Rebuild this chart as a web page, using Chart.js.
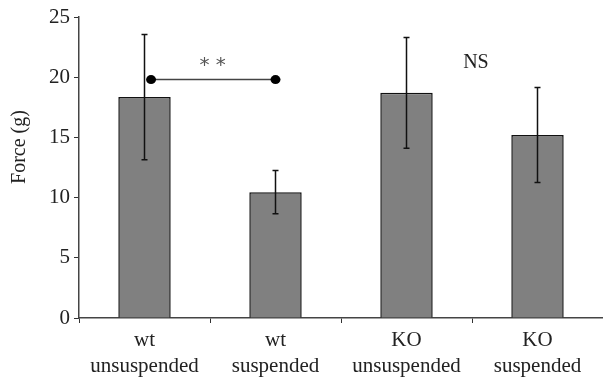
<!DOCTYPE html>
<html>
<head>
<meta charset="utf-8">
<script src="https://cdn.jsdelivr.net/npm/chart.js@4/dist/chart.umd.min.js"></script>
<style>
  html, body { margin: 0; padding: 0; background: #fff; }
  #wrap { width: 603px; height: 381px; }
</style>
</head>
<body>
<div id="wrap"><canvas id="chart"></canvas></div>
<script>
const categories = [['wt', 'unsuspended'], ['wt', 'suspended'], ['KO', 'unsuspended'], ['KO', 'suspended']];
const forceMean = [18.35, 10.45, 18.7, 15.2];
const forceErr = [5.2, 1.8, 4.6, 3.95];
const yTicks = [0, 5, 10, 15, 20, 25];
const yTitle = 'Force (g)';

// significance marks, in category index / value units
const sigBracket = { from: 0.05, to: 1.0, y: 19.8 };
const sigLabels = [
  { x: 0.52, y: 20.95, text: '* *', font: '20px "DejaVu Sans"', color: '#555' },
  { x: 2.53, y: 21.2, text: 'NS', font: '20px "Liberation Serif"', color: '#222' }
];

const serif = '"Liberation Serif", "DejaVu Serif", serif';

const extras = {
  id: 'extras',
  afterDatasetsDraw(chart) {
    const ctx = chart.ctx;
    const xs = chart.scales.x, ys = chart.scales.y;
    ctx.save();
    // error bars
    ctx.strokeStyle = '#111';
    ctx.lineWidth = 1.5;
    forceMean.forEach((m, i) => {
      const x = xs.getPixelForValue(i);
      const top = ys.getPixelForValue(m + forceErr[i]);
      const bot = ys.getPixelForValue(m - forceErr[i]);
      ctx.beginPath();
      ctx.moveTo(x, top); ctx.lineTo(x, bot);
      ctx.moveTo(x - 3, top); ctx.lineTo(x + 3, top);
      ctx.moveTo(x - 3, bot); ctx.lineTo(x + 3, bot);
      ctx.stroke();
    });
    // bracket
    const bx1 = xs.getPixelForValue(sigBracket.from);
    const bx2 = xs.getPixelForValue(sigBracket.to);
    const by = ys.getPixelForValue(sigBracket.y);
    ctx.strokeStyle = '#444';
    ctx.lineWidth = 1.5;
    ctx.beginPath();
    ctx.moveTo(bx1, by); ctx.lineTo(bx2, by);
    ctx.stroke();
    ctx.fillStyle = '#000';
    [bx1, bx2].forEach(x => {
      ctx.beginPath();
      ctx.ellipse(x, by, 5, 4.5, 0, 0, Math.PI * 2);
      ctx.fill();
    });
    // labels
    ctx.textAlign = 'center';
    ctx.textBaseline = 'middle';
    sigLabels.forEach(l => {
      ctx.font = l.font;
      ctx.fillStyle = l.color;
      ctx.fillText(l.text, xs.getPixelForValue(l.x), ys.getPixelForValue(l.y));
    });
    // y title sits above the middle of the axis in the original
    ctx.font = '20px ' + serif;
    ctx.fillStyle = '#222';
    ctx.translate(20, ys.getPixelForValue(14.2));
    ctx.rotate(-Math.PI / 2);
    ctx.fillText(yTitle, 0, 0);
    ctx.restore();
  }
};

new Chart(document.getElementById('chart'), {
  type: 'bar',
  data: {
    labels: categories,
    datasets: [{
      data: forceMean,
      backgroundColor: '#808080',
      borderColor: '#111',
      borderWidth: 1.5,
      categoryPercentage: 1,
      barPercentage: 0.4
    }]
  },
  options: {
    responsive: true,
    maintainAspectRatio: false,
    animation: false,
    layout: { padding: { top: 17, right: 0, left: 0, bottom: 0 } },
    plugins: { legend: { display: false }, tooltip: { enabled: false } },
    scales: {
      x: {
        grid: { display: true, drawOnChartArea: false, drawTicks: true, tickLength: 5, color: '#333', offset: true },
        border: { display: true, color: '#444', width: 1.5 },
        ticks: { color: '#222', font: { family: serif, size: 21, lineHeight: 1.22 }, padding: 5, maxRotation: 0 },
        afterFit: s => { s.height = 63; }
      },
      y: {
        min: 0,
        max: 25,
        afterBuildTicks: s => { s.ticks = yTicks.map(v => ({ value: v })); },
        grid: { display: true, drawOnChartArea: false, drawTicks: true, tickLength: 5, color: '#333' },
        border: { display: true, color: '#444', width: 1.5 },
        ticks: { color: '#222', font: { family: serif, size: 21 }, padding: 4 },
        afterFit: s => { s.width = 79; }
      }
    }
  },
  plugins: [extras]
});
</script>
</body>
</html>
